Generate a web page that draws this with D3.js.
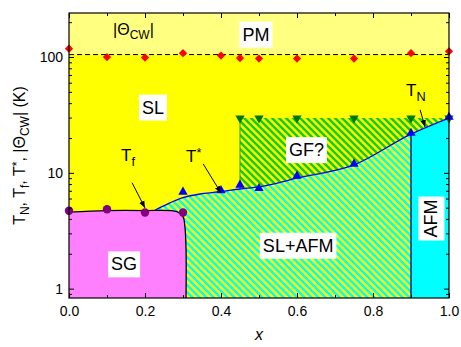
<!DOCTYPE html>
<html>
<head>
<meta charset="utf-8">
<script src="https://cdn.jsdelivr.net/npm/d3@7"></script>
<style>
body { margin: 0; background: #fff; }
svg { font-family: "Liberation Sans", Arial, sans-serif; }
</style>
</head>
<body>
<div id="chart"></div>
<script>
// ---- data ----
var xThetaCW = [0, 0.1, 0.2, 0.3, 0.4, 0.45, 0.5, 0.6, 0.75, 0.9, 1.0];
var thetaCW  = [118, 100, 99, 108, 103, 98, 97, 97, 97, 108, 112];
var thetaLine = 105;

var xTf = [0, 0.1, 0.2, 0.3];
var Tf  = [4.7, 4.85, 4.55, 4.55];

var xTstar = [0.3, 0.4, 0.45, 0.5, 0.6, 0.75, 0.9, 1.0];
var Tstar  = [6.7, 6.9, 7.7, 7.2, 9.2, 11.7, 21.6, 29.7];

var xGF = [0.45, 0.5, 0.6, 0.75, 0.9, 1.0];
var TGF = [29.7, 29.7, 29.7, 29.7, 29.7, 29.7];

// phase boundaries
var sgX = [0, 0.1, 0.2, 0.284, 0.30, 0.305, 0.308, 0.308];
var sgT = [4.57, 4.72, 4.72, 4.62, 4.19, 3.43, 2.2, 0.83];
var blueX = [0.226, 0.26, 0.3, 0.35, 0.4, 0.45, 0.5, 0.6, 0.75, 0.9, 1.0];
var blueT = [4.75, 5.4, 6.1, 6.6, 6.9, 7.25, 7.55, 9.0, 11.7, 21.6, 29.7];
var xAFM = 0.9;
var xGFleft = 0.45;

var xTicks = [0, 0.2, 0.4, 0.6, 0.8, 1.0];
var yTicks = [1, 10, 100];

var margin = {top: 13, right: 12, bottom: 49, left: 69};
var width = 461, height = 347;
var w = width - margin.left - margin.right;
var h = height - margin.top - margin.bottom;

var svg = d3.select("#chart").append("svg")
  .attr("width", width).attr("height", height);
var defs = svg.append("defs");

function hatch(id, col) {
  var p = defs.append("pattern").attr("id", id)
    .attr("patternUnits", "userSpaceOnUse")
    .attr("width", 7).attr("height", 7);
  p.append("rect").attr("width", 7).attr("height", 7).attr("fill", "#ffff00");
  p.append("path").attr("d", "M-1,-1L8,8M-2,5L2,9M5,-2L9,2")
    .attr("stroke", col).attr("stroke-width", 2.5);
}
hatch("hCyan", "#00ffff");
hatch("hGreen", "#11cc11");

defs.append("marker").attr("id", "arr")
  .attr("viewBox", "0 0 10 10").attr("refX", 10).attr("refY", 5)
  .attr("markerWidth", 7).attr("markerHeight", 7)
  .attr("orient", "auto").attr("markerUnits", "userSpaceOnUse")
  .append("path").attr("d", "M0,1L10,5L0,9Z").attr("fill", "#000");

defs.append("clipPath").attr("id", "clip")
  .append("rect").attr("width", w).attr("height", h);

var g = svg.append("g")
  .attr("transform", "translate(" + margin.left + "," + margin.top + ")");

var x = d3.scaleLinear().domain([0, 1]).range([0, w]);
var y = d3.scaleLog().domain([0.83, 240]).range([h, 0]);

var plot = g.append("g").attr("clip-path", "url(#clip)");

// SL background and PM
plot.append("rect").attr("width", w).attr("height", h).attr("fill", "#ffff00");
plot.append("rect").attr("width", w).attr("height", y(thetaLine))
  .attr("fill", "#ffff80");

var blue = blueX.map(function(d, i) { return [d, blueT[i]]; });
var curve = d3.curveMonotoneX;

// SL+AFM hatched
var slafm = blue.filter(function(d) { return d[0] <= xAFM; });
plot.append("path").datum(slafm)
  .attr("d", d3.area().x(function(d) { return x(d[0]); })
    .y0(h).y1(function(d) { return y(d[1]); }).curve(curve))
  .attr("fill", "url(#hCyan)");

// AFM
var afm = blue.filter(function(d) { return d[0] >= xAFM; });
plot.append("path").datum(afm)
  .attr("d", d3.area().x(function(d) { return x(d[0]); })
    .y0(h).y1(function(d) { return y(d[1]); }))
  .attr("fill", "#00ffff");

// GF? hatched
var gf = blue.filter(function(d) { return d[0] >= xGFleft; });
plot.append("path").datum(gf)
  .attr("d", d3.area().x(function(d) { return x(d[0]); })
    .y0(y(TGF[0])).y1(function(d) { return y(d[1]); }).curve(curve))
  .attr("fill", "url(#hGreen)");
plot.append("line")
  .attr("x1", x(xGFleft)).attr("x2", x(xGFleft))
  .attr("y1", y(TGF[0])).attr("y2", y(d3.min(gf, function(d) { return d[1]; })))
  .attr("stroke", "#339933").attr("stroke-width", 1);

// SG
var sg = sgX.map(function(d, i) { return [d, sgT[i]]; });
var sgCurve = d3.line().x(function(d) { return x(d[0]); })
  .y(function(d) { return y(d[1]); }).curve(d3.curveCatmullRom.alpha(0.5));
plot.append("path").datum(sg)
  .attr("d", "M" + x(0) + "," + h + sgCurve(sg).replace("M", "L") + "Z")
  .attr("fill", "#ff80ff");
plot.append("path").datum(sg)
  .attr("d", sgCurve(sg))
  .attr("fill", "none").attr("stroke", "#000").attr("stroke-width", 1.3);

// boundaries
plot.append("line")
  .attr("x1", x(xAFM)).attr("x2", x(xAFM))
  .attr("y1", h).attr("y2", y(blueT[blueX.indexOf(xAFM)]))
  .attr("stroke", "#000080").attr("stroke-width", 1.3);
plot.append("path").datum(blue)
  .attr("d", d3.line().x(function(d) { return x(d[0]); })
    .y(function(d) { return y(d[1]); }).curve(curve))
  .attr("fill", "none").attr("stroke", "#0000ff").attr("stroke-width", 1.3);

plot.append("line")
  .attr("x1", 0).attr("x2", w)
  .attr("y1", y(thetaLine)).attr("y2", y(thetaLine))
  .attr("stroke", "#000").attr("stroke-width", 1).attr("stroke-dasharray", "5,3");

// markers
var sym = g.append("g");
sym.selectAll(".cw").data(xThetaCW).enter().append("path")
  .attr("d", d3.symbol(d3.symbolSquare, 34))
  .attr("transform", function(d, i) {
    return "translate(" + x(d) + "," + y(thetaCW[i]) + ") rotate(45)"; })
  .attr("fill", "#ff0000");
sym.selectAll(".gf").data(xGF).enter().append("path")
  .attr("d", d3.symbol(d3.symbolTriangle, 38))
  .attr("transform", function(d, i) {
    return "translate(" + x(d) + "," + y(TGF[i]) + ") rotate(180)"; })
  .attr("fill", "#007700");
sym.selectAll(".ts").data(xTstar).enter().append("path")
  .attr("d", d3.symbol(d3.symbolTriangle, 38))
  .attr("transform", function(d, i) {
    return "translate(" + x(d) + "," + (y(Tstar[i]) - 1) + ")"; })
  .attr("fill", "#0000ff");
sym.selectAll(".tf").data(xTf).enter().append("circle")
  .attr("cx", function(d) { return x(d); })
  .attr("cy", function(d, i) { return y(Tf[i]); })
  .attr("r", 4.2).attr("fill", "#800080");

// boxed region labels
var boxLabels = [
  {t: "PM", x: 0.492, y: 157},
  {t: "SL", x: 0.221, y: 36.8},
  {t: "GF?", x: 0.625, y: 15.8},
  {t: "SL+AFM", x: 0.603, y: 2.36},
  {t: "SG", x: 0.145, y: 1.63},
  {t: "AFM", x: 0.953, y: 4.03, rot: true}
];
boxLabels.forEach(function(d) {
  var lg = g.append("g")
    .attr("transform", "translate(" + x(d.x) + "," + y(d.y) + ")" + (d.rot ? " rotate(-90)" : ""));
  var bg = lg.append("rect").attr("fill", "#fff");
  var tx = lg.append("text").attr("text-anchor", "middle")
    .attr("dy", "0.35em").attr("font-size", 18).text(d.t);
  var bb = tx.node().getBBox();
  bg.attr("x", bb.x - 3).attr("y", bb.y - 3)
    .attr("width", bb.width + 6).attr("height", bb.height + 6);
});

// text with sub/superscripts
function richText(parent, px, py, parts, size) {
  var t = parent.append("text").attr("x", px).attr("y", py).attr("font-size", size);
  parts.forEach(function(p) {
    var s = t.append("tspan").text(p[0]);
    if (p[1] === "sub") s.attr("font-size", size * 0.75).attr("baseline-shift", "-35%");
    if (p[1] === "sup") s.attr("font-size", size * 0.75).attr("baseline-shift", "35%");
  });
  return t;
}
richText(g, x(0.116), y(156), [["|Θ"], ["CW", "sub"], ["|"]], 16);
richText(g, x(0.137), y(12.7), [["T"], ["f", "sub"]], 17);
richText(g, x(0.308), y(12.4), [["T"], ["*", "sup"]], 17);
richText(g, x(0.887), y(46.3), [["T"], ["N", "sub"]], 17);

var arrows = [
  [[0.166, 8.2], [0.2, 4.98]],
  [[0.353, 11.96], [0.4, 6.7]],
  [[0.924, 35.0], [0.937, 24.9]]
];
arrows.forEach(function(a) {
  g.append("line")
    .attr("x1", x(a[0][0])).attr("y1", y(a[0][1]))
    .attr("x2", x(a[1][0])).attr("y2", y(a[1][1]))
    .attr("stroke", "#000").attr("stroke-width", 1)
    .attr("marker-end", "url(#arr)");
});

// axes, ticks pointing inwards
var yMinor = [];
[0.1, 1, 10, 100].forEach(function(dec) {
  for (var k = 2; k <= 9; k++) {
    var v = dec * k;
    if (v >= 0.83 && v <= 240) yMinor.push(v);
  }
});
var xMinor = [0.1, 0.3, 0.5, 0.7, 0.9];

function styleAxis(sel) {
  sel.select(".domain").remove();
  sel.selectAll("line").attr("stroke", "#000");
  sel.selectAll("text").attr("font-size", 14).attr("fill", "#000")
    .attr("font-family", "Liberation Sans, Arial, sans-serif");
}

g.append("g").attr("transform", "translate(0," + h + ")")
  .call(d3.axisBottom(x).tickValues(xTicks).tickFormat(d3.format(".1f"))
    .tickSize(-5).tickPadding(8)).call(styleAxis);
g.append("g").attr("transform", "translate(0," + h + ")")
  .call(d3.axisBottom(x).tickValues(xMinor).tickFormat("").tickSize(-3)).call(styleAxis);
g.append("g")
  .call(d3.axisTop(x).tickValues(xTicks).tickFormat("").tickSize(-5)).call(styleAxis);
g.append("g")
  .call(d3.axisTop(x).tickValues(xMinor).tickFormat("").tickSize(-3)).call(styleAxis);

g.append("g")
  .call(d3.axisLeft(y).tickValues(yTicks).tickFormat(d3.format("d"))
    .tickSize(-5).tickPadding(6)).call(styleAxis);
g.append("g")
  .call(d3.axisLeft(y).tickValues(yMinor).tickFormat("").tickSize(-3)).call(styleAxis);
g.append("g").attr("transform", "translate(" + w + ",0)")
  .call(d3.axisRight(y).tickValues(yTicks).tickFormat("").tickSize(-5)).call(styleAxis);
g.append("g").attr("transform", "translate(" + w + ",0)")
  .call(d3.axisRight(y).tickValues(yMinor).tickFormat("").tickSize(-3)).call(styleAxis);

g.append("rect").attr("width", w).attr("height", h)
  .attr("fill", "none").attr("stroke", "#000").attr("stroke-width", 1.2);

// axis titles
g.append("text")
  .attr("x", w / 2).attr("y", h + 42)
  .attr("text-anchor", "middle").attr("font-size", 16)
  .attr("font-style", "italic").text("x");

var yl = g.append("g")
  .attr("transform", "translate(-44," + (h / 2) + ") rotate(-90)");
var ylt = yl.append("text").attr("text-anchor", "middle").attr("font-size", 16);
[["T"], ["N", "sub"], [", T"], ["f", "sub"], [", T"], ["*", "sup"], [", |Θ"], ["CW", "sub"], ["| (K)"]]
  .forEach(function(p) {
    var s = ylt.append("tspan").text(p[0]);
    if (p[1] === "sub") s.attr("font-size", 12).attr("baseline-shift", "-35%");
    if (p[1] === "sup") s.attr("font-size", 12).attr("baseline-shift", "35%");
  });
</script>
</body>
</html>
